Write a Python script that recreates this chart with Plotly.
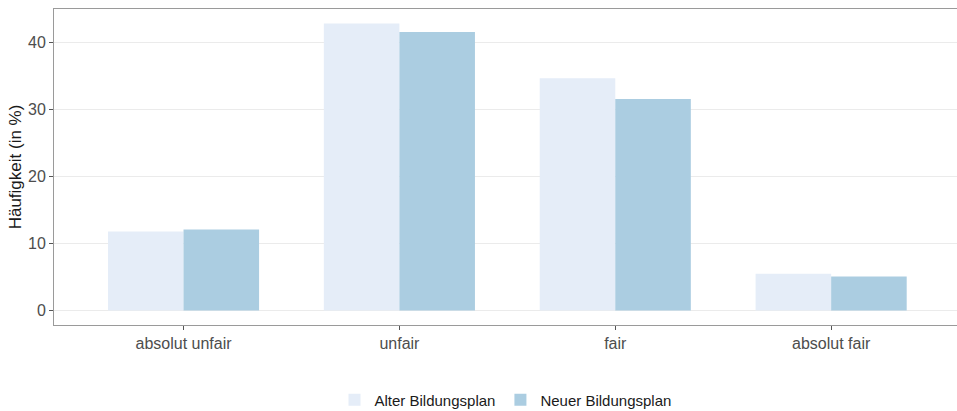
import plotly.graph_objects as go

categories = ["absolut unfair", "unfair", "fair", "absolut fair"]
alter = [11.8, 42.9, 34.7, 5.5]
neuer = [12.1, 41.6, 31.6, 5.1]
y_ticks = [0, 10, 20, 30, 40]


def build_plot():
    fig = go.Figure()
    fig.add_trace(go.Bar(x=categories, y=alter, name="Alter Bildungsplan",
                         marker_color="#e5edf8", marker_line_width=0))
    fig.add_trace(go.Bar(x=categories, y=neuer, name="Neuer Bildungsplan",
                         marker_color="#abcde1", marker_line_width=0))
    fig.update_layout(
        width=957, height=411,
        margin=dict(l=54, r=0, t=9, b=86, autoexpand=False),
        barmode="group", bargap=0.3, bargroupgap=0,
        plot_bgcolor="white", paper_bgcolor="white",
        font=dict(family="Liberation Sans, Arial, sans-serif", size=16, color="#4d4d4d"),
        legend=dict(orientation="h", x=0.5, xanchor="center", y=-0.237, yanchor="middle",
                    font=dict(size=15, color="#1a1a1a"), itemwidth=30),
    )
    fig.update_xaxes(range=[-0.6, 3.583], showgrid=False, showline=True, linecolor="#9a9a9a",
                     linewidth=1, mirror=True, ticks="outside", ticklen=4, tickcolor="#555",
                     automargin=False, tickfont=dict(size=16, color="#4d4d4d"))
    fig.update_yaxes(range=[-2.15, 45.05], tickvals=y_ticks, showgrid=True, gridcolor="#ebebeb",
                     zeroline=False, showline=True, linecolor="#9a9a9a", linewidth=1,
                     ticks="outside", ticklen=4, tickcolor="#555", automargin=False,
                     tickfont=dict(size=16, color="#4d4d4d"),
                     title=dict(text="Häufigkeit (in %)", font=dict(size=17, color="#1a1a1a"),
                                standoff=2))
    return fig


fig = build_plot()
# drop the default page margin so the figure fills the window
fig.write_html("out.html", config={"displayModeBar": False},
               post_script="document.body.style.margin='0';document.body.style.overflow='hidden';")
